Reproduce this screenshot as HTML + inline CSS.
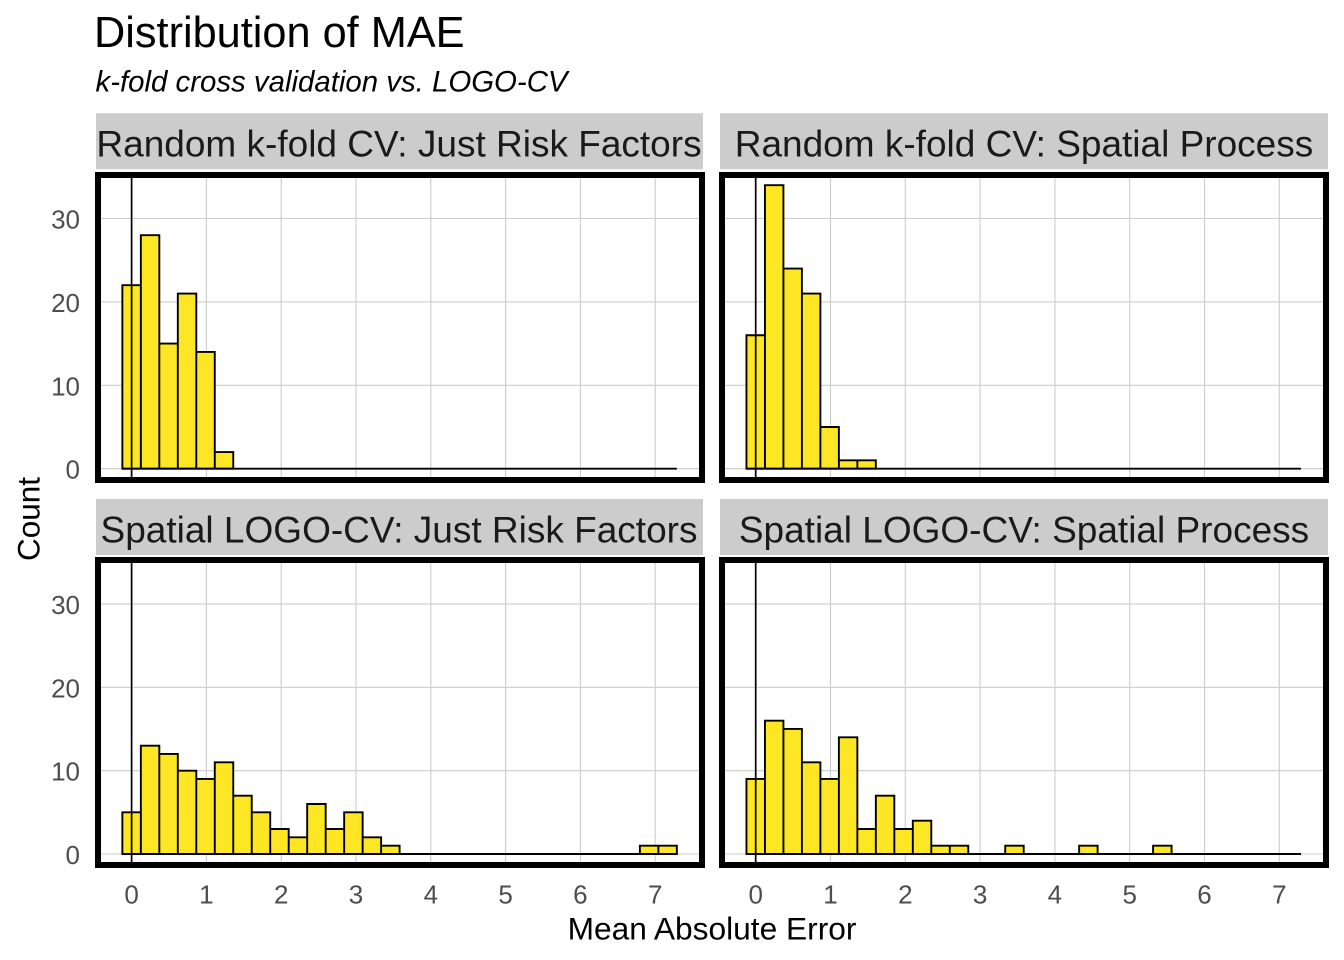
<!DOCTYPE html>
<html>
<head>
<meta charset="utf-8">
<style>
  html, body { margin:0; padding:0; background:#ffffff; }
  svg { display:block; }
  text { font-family: "Liberation Sans", Arial, sans-serif; }
</style>
</head>
<body>
<svg width="1344" height="960" viewBox="0 0 1344 960" xmlns="http://www.w3.org/2000/svg">
  <rect x="0" y="0" width="1344" height="960" fill="#ffffff"/>

  <text x="94" y="47" font-size="43.3" fill="#000000">Distribution of MAE</text>
  <text x="95.5" y="91.5" font-size="29.4" font-style="italic" fill="#000000">k-fold cross validation vs. LOGO-CV</text>

  <path d="M96 113.3h607v56h-607Z M720 113.3h608v56h-608Z M96 499h607v56h-607Z M720 499h608v56h-608Z" fill="#cccccc"/>
  <g font-size="37" fill="#1a1a1a" text-anchor="middle">
    <text x="399" y="156.7">Random k-fold CV: Just Risk Factors</text>
    <text x="1024" y="156.7">Random k-fold CV: Spatial Process</text>
    <text x="399" y="542.3">Spatial LOGO-CV: Just Risk Factors</text>
    <text x="1024" y="542.3">Spatial LOGO-CV: Spatial Process</text>
  </g>

  <path stroke="#cccccc" stroke-width="1.1" fill="none" d="
    M101 468.7H699 M101 385.3H699 M101 301.9H699 M101 218.5H699
    M725 468.7H1323 M725 385.3H1323 M725 301.9H1323 M725 218.5H1323
    M101 854H699 M101 770.65H699 M101 687.3H699 M101 603.95H699
    M725 854H1323 M725 770.65H1323 M725 687.3H1323 M725 603.95H1323
    M206.4 178V477 M281.2 178V477 M356 178V477 M430.8 178V477 M505.6 178V477 M580.4 178V477 M655.2 178V477
    M830.5 178V477 M905.3 178V477 M980.1 178V477 M1054.9 178V477 M1129.7 178V477 M1204.5 178V477 M1279.3 178V477
    M206.4 563V862 M281.2 563V862 M356 563V862 M430.8 563V862 M505.6 563V862 M580.4 563V862 M655.2 563V862
    M830.5 563V862 M905.3 563V862 M980.1 563V862 M1054.9 563V862 M1129.7 563V862 M1204.5 563V862 M1279.3 563V862"/>

  <g fill="#fde725" stroke="#000000" stroke-width="1.9" stroke-linejoin="miter">
    <path d="M122.36 468.7V285.22h18.48V468.7Z M140.84 468.7V235.18h18.48V468.7Z M159.33 468.7V343.6h18.48V468.7Z M177.81 468.7V293.56h18.48V468.7Z M196.29 468.7V351.94h18.48V468.7Z M214.78 468.7V452.02h18.48V468.7Z"/>
    <path d="M746.46 468.7V335.26h18.48V468.7Z M764.94 468.7V185.14h18.48V468.7Z M783.43 468.7V268.54h18.48V468.7Z M801.91 468.7V293.56h18.48V468.7Z M820.39 468.7V427h18.48V468.7Z M838.88 468.7V460.36h18.48V468.7Z M857.36 468.7V460.36h18.48V468.7Z"/>
    <path d="M122.36 854V812.32h18.48V854Z M140.84 854V745.64h18.48V854Z M159.33 854V753.98h18.48V854Z M177.81 854V770.65h18.48V854Z M196.29 854V778.98h18.48V854Z M214.78 854V762.31h18.48V854Z M233.26 854V795.65h18.48V854Z M251.74 854V812.32h18.48V854Z M270.22 854V829h18.48V854Z M288.71 854V837.33h18.48V854Z M307.19 854V803.99h18.48V854Z M325.67 854V829h18.48V854Z M344.16 854V812.32h18.48V854Z M362.64 854V837.33h18.48V854Z M381.12 854V845.67h18.48V854Z M639.88 854V845.67h18.48V854Z M658.37 854V845.67h18.48V854Z"/>
    <path d="M746.46 854V778.98h18.48V854Z M764.94 854V720.64h18.48V854Z M783.43 854V728.97h18.48V854Z M801.91 854V762.31h18.48V854Z M820.39 854V778.98h18.48V854Z M838.88 854V737.31h18.48V854Z M857.36 854V829h18.48V854Z M875.84 854V795.65h18.48V854Z M894.33 854V829h18.48V854Z M912.81 854V820.66h18.48V854Z M931.29 854V845.67h18.48V854Z M949.78 854V845.67h18.48V854Z M1005.22 854V845.67h18.48V854Z M1079.15 854V845.67h18.48V854Z M1153.09 854V845.67h18.48V854Z"/>
  </g>

  <path stroke="#000000" stroke-width="1.9" fill="none" d="M122.36 468.7H676.85 M746.46 468.7H1300.95 M122.36 854H676.85 M746.46 854H1300.95"/>
  <path stroke="#000000" stroke-width="1.7" fill="none" d="M131.6 178V478 M755.7 178V478 M131.6 563V863 M755.7 563V863"/>

  <path fill="none" stroke="#000000" stroke-width="6" d="M98 175h604v305h-604Z M722 175h604v305h-604Z M98 560h604v305h-604Z M722 560h604v305h-604Z"/>

  <g font-size="26" fill="#4d4d4d" text-anchor="end">
    <text x="80" y="478.7">0</text>
    <text x="80" y="395.3">10</text>
    <text x="80" y="311.9">20</text>
    <text x="80" y="228.5">30</text>
    <text x="80" y="864">0</text>
    <text x="80" y="780.65">10</text>
    <text x="80" y="697.3">20</text>
    <text x="80" y="613.95">30</text>
  </g>

  <g font-size="26" fill="#4d4d4d" text-anchor="middle">
    <text x="131.6" y="903.3">0</text>
    <text x="206.4" y="903.3">1</text>
    <text x="281.2" y="903.3">2</text>
    <text x="356" y="903.3">3</text>
    <text x="430.8" y="903.3">4</text>
    <text x="505.6" y="903.3">5</text>
    <text x="580.4" y="903.3">6</text>
    <text x="655.2" y="903.3">7</text>
    <text x="755.7" y="903.3">0</text>
    <text x="830.5" y="903.3">1</text>
    <text x="905.3" y="903.3">2</text>
    <text x="980.1" y="903.3">3</text>
    <text x="1054.9" y="903.3">4</text>
    <text x="1129.7" y="903.3">5</text>
    <text x="1204.5" y="903.3">6</text>
    <text x="1279.3" y="903.3">7</text>
  </g>

  <text x="712" y="939.3" font-size="31.7" fill="#000000" text-anchor="middle">Mean Absolute Error</text>
  <text x="0" y="0" font-size="31.5" fill="#000000" text-anchor="middle" transform="translate(39.5,519) rotate(-90)">Count</text>
</svg>
</body>
</html>
